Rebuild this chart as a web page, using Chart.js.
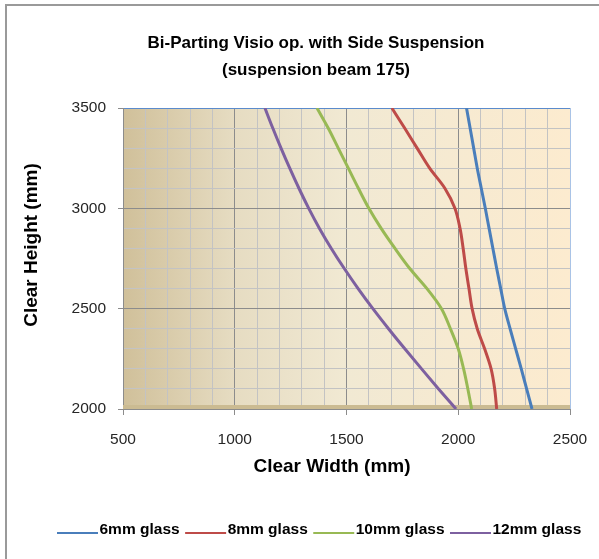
<!DOCTYPE html>
<html>
<head>
<meta charset="utf-8">
<script src="https://cdn.jsdelivr.net/npm/chart.js@4.4.1/dist/chart.umd.min.js"></script>
<style>
  html, body { margin: 0; padding: 0; background: #fff; }
  #wrap { width: 599px; height: 559px; }
</style>
</head>
<body>
<div id="wrap"><canvas id="chart" width="599" height="559"></canvas></div>
<script>
// clear height (mm) for each row of widths below
const heights = [2000, 2100, 2200, 2300, 2400, 2500, 2600, 2700, 2800, 2900, 3000, 3100, 3200, 3300, 3400, 3500];

// clear width (mm)
const glass6  = [2330, 2306, 2282, 2257, 2232, 2208, 2190, 2172, 2155, 2138, 2121, 2103, 2085, 2069, 2053, 2037];
const glass8  = [2172, 2163, 2147, 2118, 2085, 2062, 2048, 2034, 2022, 2008, 1985, 1940, 1872, 1816, 1760, 1703];
const glass10 = [2060, 2043, 2024, 2000, 1965, 1925, 1860, 1783, 1717, 1655, 1600, 1553, 1508, 1463, 1418, 1368];
const glass12 = [1990, 1912, 1836, 1761, 1688, 1618, 1552, 1490, 1432, 1379, 1331, 1287, 1246, 1207, 1170, 1135];

const seriesLabels = ['6mm glass', '8mm glass', '10mm glass', '12mm glass'];
const seriesColors = ['#4a7ebb', '#be4b48', '#98b954', '#7d60a0'];

const xTicks = [500, 1000, 1500, 2000, 2500];
const yTicks = [2000, 2500, 3000, 3500];

const titleLines = ['Bi-Parting Visio op. with Side Suspension', '(suspension beam 175)'];
const xTitle = 'Clear Width (mm)';
const yTitle = 'Clear Height (mm)';

const FONT = "'Liberation Sans', Arial, sans-serif";

function toPoints(widths) {
    return heights.map((h, i) => ({ x: widths[i], y: h }));
}

const allSeries = [glass6, glass8, glass10, glass12];

const datasets = allSeries.map((s, i) => ({
    label: seriesLabels[i],
    data: toPoints(s),
    borderColor: seriesColors[i],
    backgroundColor: seriesColors[i],
    borderWidth: 3,
    pointRadius: 0,
    cubicInterpolationMode: 'monotone'
}));

// background, frame and all the texts Excel puts around the plot
const decor = {
    id: 'decor',
    beforeDraw(chart) {
        const c = chart.ctx;
        const a = chart.chartArea;
        c.save();
        c.fillStyle = '#fff';
        c.fillRect(0, 0, chart.width, chart.height);
        c.fillStyle = '#9a9a9a';
        c.fillRect(5, 4, 2, chart.height - 4);
        c.fillRect(5, 4, chart.width - 5, 2);

        const g = c.createLinearGradient(a.left, 0, a.right, 0);
        g.addColorStop(0, '#d0c09a');
        g.addColorStop(0.25, '#e6dcc2');
        g.addColorStop(0.5, '#f1e9d3');
        g.addColorStop(1, '#fcebcf');
        c.fillStyle = g;
        c.fillRect(a.left, a.top, a.right - a.left, a.bottom - a.top);
        c.restore();
    },
    beforeDatasetsDraw(chart) {
        const c = chart.ctx;
        const a = chart.chartArea;
        c.save();
        c.fillStyle = '#cbbb92';
        c.fillRect(a.left, a.bottom - 4, a.right - a.left, 4);
        c.restore();
    },
    afterDraw(chart) {
        const c = chart.ctx;
        c.save();
        c.fillStyle = '#000';
        c.textAlign = 'center';
        c.textBaseline = 'middle';
        c.font = 'bold 17px ' + FONT;
        c.fillText(titleLines[0], 316, 43);
        c.fillText(titleLines[1], 316, 70);

        c.font = 'bold 19px ' + FONT;
        c.fillText(xTitle, 332, 467);

        c.save();
        c.translate(32, 245);
        c.rotate(-Math.PI / 2);
        c.fillText(yTitle, 0, 0);
        c.restore();

        // legend
        c.font = 'bold 15.5px ' + FONT;
        c.textAlign = 'left';
        let x = 57;
        chart.data.datasets.forEach(ds => {
            c.strokeStyle = ds.borderColor;
            c.lineWidth = 2;
            c.beginPath();
            c.moveTo(x, 533);
            c.lineTo(x + 41, 533);
            c.stroke();
            c.fillStyle = '#000';
            c.fillText(ds.label, x + 42.5, 530);
            x += 42.5 + c.measureText(ds.label).width + 5.5;
        });
        c.restore();
    }
};

function gridColor(ctx, edge, edgeColor) {
    const v = ctx.tick.value;
    if (v === edge) return edgeColor;
    return v % 500 === 0 ? '#8c8c8c' : '#c3c3c3';
}

new Chart(document.getElementById('chart').getContext('2d'), {
    type: 'line',
    data: { datasets: datasets },
    options: {
        responsive: false,
        animation: false,
        indexAxis: 'y',
        layout: { padding: { top: 108, right: 29, left: 0, bottom: 0 } },
        plugins: {
            legend: { display: false },
            title: { display: false },
            tooltip: { enabled: false }
        },
        scales: {
            x: {
                type: 'linear',
                position: 'bottom',
                min: 500,
                max: 2500,
                afterFit(scale) {
                    scale.height = 150;
                    scale.paddingLeft = 0;
                    scale.paddingRight = 0;
                },
                afterBuildTicks(scale) {
                    scale.ticks = [];
                    for (let v = 500; v <= 2500; v += 100) scale.ticks.push({ value: v });
                },
                ticks: {
                    autoSkip: false,
                    maxRotation: 0,
                    padding: 15,
                    color: '#262626',
                    font: { family: FONT, size: 15.5 },
                    callback: v => xTicks.includes(v) ? v : ''
                },
                grid: {
                    color: ctx => gridColor(ctx, 2500, '#a9c3e6'),
                    tickColor: ctx => ctx.tick.value % 500 === 0 ? '#8c8c8c' : 'rgba(0,0,0,0)',
                    tickLength: 6,
                    lineWidth: 1
                },
                border: { color: '#8c8c8c', width: 1 }
            },
            y: {
                type: 'linear',
                position: 'left',
                min: 2000,
                max: 3500,
                afterFit(scale) {
                    scale.width = 123;
                    scale.paddingTop = 0;
                    scale.paddingBottom = 0;
                },
                afterBuildTicks(scale) {
                    scale.ticks = [];
                    for (let v = 2000; v <= 3500; v += 100) scale.ticks.push({ value: v });
                },
                ticks: {
                    autoSkip: false,
                    padding: 12,
                    color: '#262626',
                    font: { family: FONT, size: 15.5 },
                    callback: v => yTicks.includes(v) ? v : ''
                },
                grid: {
                    color: ctx => gridColor(ctx, 3500, '#5b8bcc'),
                    tickColor: ctx => ctx.tick.value % 500 === 0 ? '#8c8c8c' : 'rgba(0,0,0,0)',
                    tickLength: 5,
                    lineWidth: 1
                },
                border: { color: '#8c8c8c', width: 1 }
            }
        }
    },
    plugins: [decor]
});
</script>
</body>
</html>
